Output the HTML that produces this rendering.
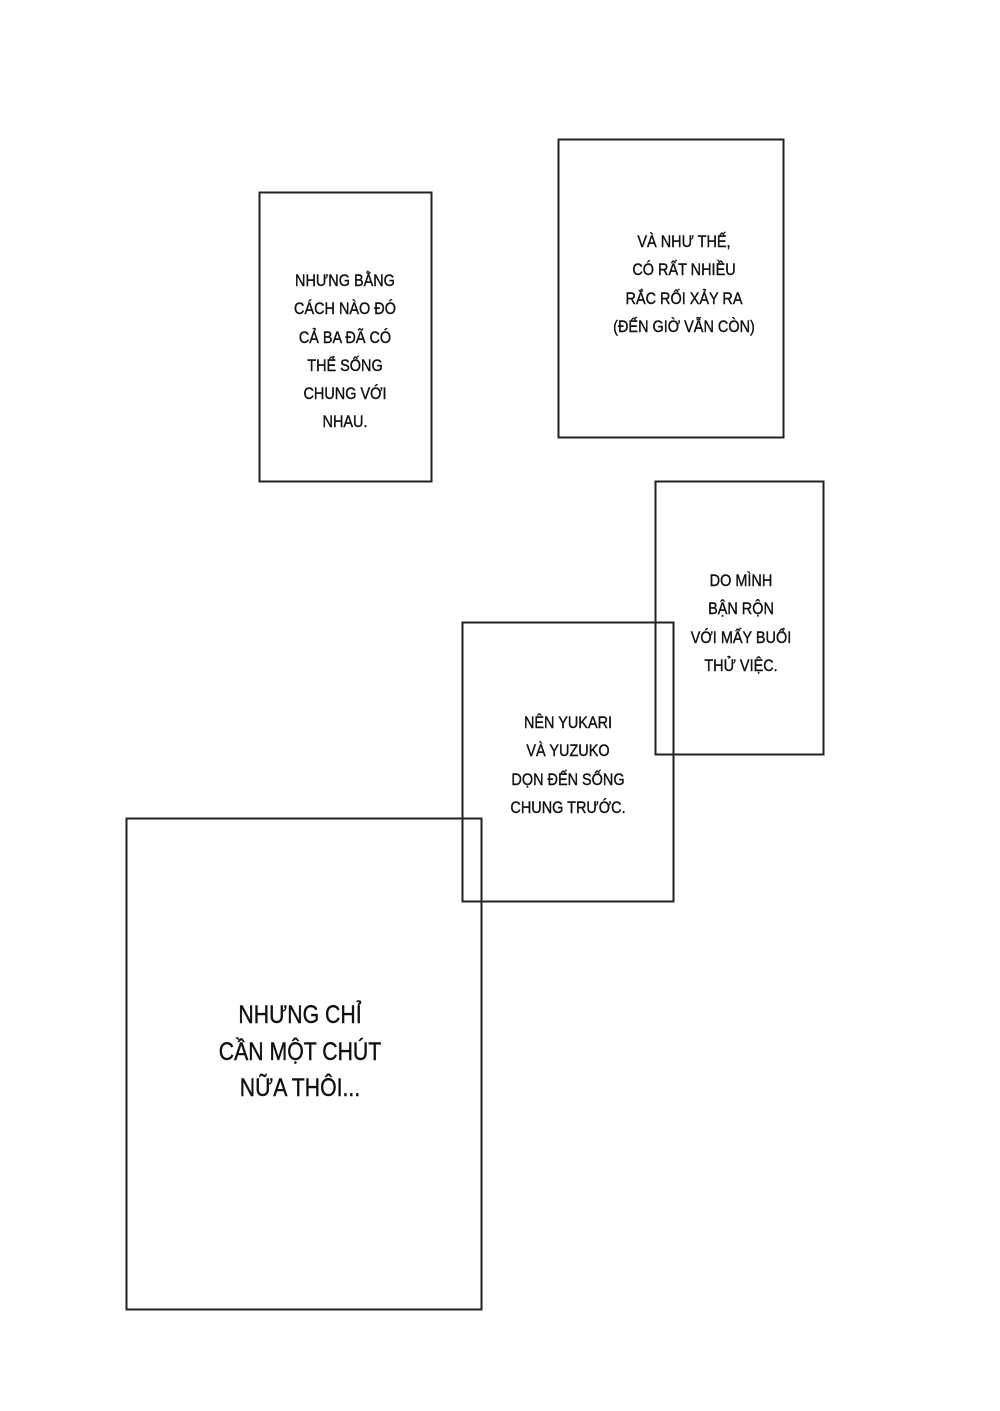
<!DOCTYPE html>
<html><head><meta charset="utf-8"><style>
html,body{margin:0;padding:0;background:#fff;}
#p{position:relative;width:1000px;height:1411px;overflow:hidden;background:#fff;}
.t{position:absolute;font-family:"Liberation Sans",sans-serif;color:#111;text-align:center;white-space:nowrap;transform:translateX(-50%) scaleX(0.85);transform-origin:center top;-webkit-text-stroke:0.4px #111;}
.s{font-size:17px;line-height:28.3px;}
.b{font-size:25px;line-height:36.5px;}
</style></head><body><div id="p">
<svg width="1000" height="1411" style="position:absolute;left:0;top:0">
<g fill="none" stroke="#222" stroke-width="2">
<rect x="259.5" y="192.5" width="172" height="289"/>
<rect x="558.5" y="139.5" width="225" height="298"/>
<rect x="655.5" y="481.5" width="168" height="273"/>
<rect x="462.5" y="622.5" width="211" height="279"/>
<rect x="126.5" y="818.5" width="355" height="491"/>
</g></svg>
<div class="t s" style="left:345px;top:267px">NHƯNG BẰNG<br>CÁCH NÀO ĐÓ<br>CẢ BA ĐÃ CÓ<br>THỂ SỐNG<br>CHUNG VỚI<br>NHAU.</div>
<div class="t s" style="left:684px;top:228px">VÀ NHƯ THẾ,<br>CÓ RẤT NHIỀU<br>RẮC RỐI XẢY RA<br>(ĐẾN GIỜ VẪN CÒN)</div>
<div class="t s" style="left:741px;top:567px">DO MÌNH<br>BẬN RỘN<br>VỚI MẤY BUỔI<br>THỬ VIỆC.</div>
<div class="t s" style="left:568px;top:709px">NÊN YUKARI<br>VÀ YUZUKO<br>DỌN ĐẾN SỐNG<br>CHUNG TRƯỚC.</div>
<div class="t b" style="left:300px;top:997px">NHƯNG CHỈ<br>CẦN MỘT CHÚT<br>NỮA THÔI...</div>
</div></body></html>
